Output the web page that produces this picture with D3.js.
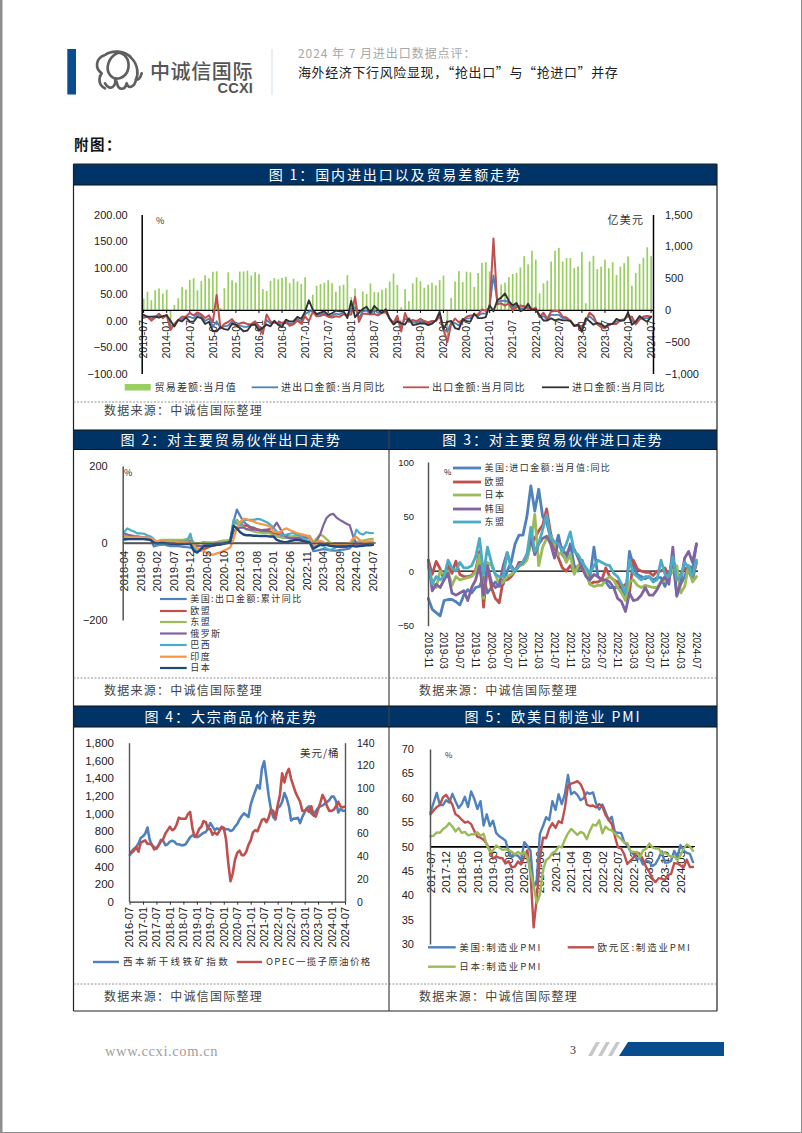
<!DOCTYPE html>
<html><head><meta charset="utf-8">
<script src="https://cdnjs.cloudflare.com/ajax/libs/d3/7.8.5/d3.min.js"></script>
<style>html,body{margin:0;padding:0;background:#fff}svg{display:block}text{font-family:"Liberation Sans",Arial,sans-serif}.cjk{font-family:"Noto Sans CJK SC",sans-serif}.serif{font-family:"Liberation Serif",serif}</style>
</head><body><div id="c"></div>
<script>
// ---------- Figure 1 ----------
const f1Ticks=["2013-07","2014-01","2014-07","2015-01","2015-07","2016-01","2016-07","2017-01","2017-07","2018-01","2018-07","2019-01","2019-07","2020-01","2020-07","2021-01","2021-07","2022-01","2022-07","2023-01","2023-07","2024-01","2024-07"];
const f1Balance=[178,286,152,311,338,256,
318,-229,77,184,359,319,473,498,309,454,545,497,
600,606,30,341,590,465,430,602,604,616,542,594,
563,326,298,456,500,481,502,520,420,490,446,409,
513,-91,239,380,408,428,467,420,285,381,397,547,
200,337,-50,289,250,416,280,279,317,340,447,570,
392,41,326,138,417,510,450,348,396,428,387,468,
540,-420,190,445,610,440,600,590,360,580,740,750,
605,37,138,400,430,515,565,583,668,845,717,930,
790,260,420,460,760,930,975,760,815,815,655,685,
910,105,760,850,640,680,790,655,750,550,680,735,
840,380,580,725,820,985,845];
const f1Total=[7.8,7.1,3.4,6.3,9.3,6.0,
10.4,-10,-9,0.9,3,6.1,7,3.8,11.4,8.2,-0.8,4,
-11.1,-2,-14,-10.9,-9.8,-1.7,-8.2,-9.4,-11.8,-11.9,-7.6,-4.3,
-14.4,-19,0.9,-5.9,-2.4,-6.4,-8,-0.8,-6.6,-4.8,3,-2.2,
11.5,17,18,9.8,11.4,14,9,9,13,11.7,15,8,
22,25,5,17,18.6,12.6,19.3,14.6,14.4,18,3.4,-5.8,
4,-13,3.6,0.5,-3.3,-4,-0.6,-3.1,-5.6,-3.4,-0.4,12,
-16.6,-21,-4.2,-4.9,-9.3,1.5,3.4,4.3,11.4,8.3,13.5,13,
26.6,85,34.5,37,37.4,34.2,23,29,23,24,26,20.4,
22.8,8,8,2.1,11,10.1,11,4.1,3.4,-0.4,-9.5,-9,
-14.8,1,8,1,-6.2,-10,-13.5,-8,-6.2,-2,0,1.3,
11,0,-5,4.7,5,4,7];
const f1Export=[5,7,-0.3,5.6,12.7,4.3,
10.6,-18,-6.6,0.9,7,7.2,14.5,9.4,15.3,11.6,4.7,9.7,
-3.3,48.3,-15,-6.4,-2.8,2.8,-8.3,-5.5,-3.7,-6.9,-6.8,-1.4,
-11.2,-25.4,11.5,-1.8,-4.1,-4.8,-4.4,-2.8,-10,-7.3,0.1,-6.1,
7.9,-1.3,16.4,8,8.7,11.3,7.2,5.5,8.1,6.9,12,10.9,
11.1,44.5,-2.7,12.9,12.6,11.3,12.2,9.8,14.5,15.6,3.9,-4.4,
9.1,-20.7,14,-2.7,1.1,-1.3,3.3,-1,-3.2,-0.9,-1.1,7.9,
-17,-40.6,-6.6,3.5,-3.3,0.5,7.2,9.5,9.9,11.4,21.1,18.1,
24.9,154.9,30.6,32.3,27.9,32.2,19.3,25.6,28.1,27.1,22,20.9,
24.1,6.2,14.7,3.9,16.9,17.9,18,7.1,5.7,-0.3,-8.9,-9.9,
-10.5,-1.3,14.8,8.5,-7.5,-12.4,-14.5,-8.8,-6.2,-6.4,0.5,2.3,
8,7.1,-7.5,1.5,7.6,8.6,7];
const f1Import=[10.9,7,7.4,7.6,5.3,8.3,
10,-0.5,-11.3,0.8,-1.6,5.5,-1.6,-2.4,7,4.6,-6.7,-2.4,
-19.9,-20.5,-12.7,-16.2,-17.6,-6.1,-8.1,-13.8,-20.4,-18.8,-8.7,-7.6,
-18.8,-13.8,-7.6,-10.9,-0.4,-8.4,-12.5,1.5,-1.9,-1.4,6.7,3.1,
16.7,38.1,20.3,11.9,14.8,17.2,11,13.3,18.7,17.2,17.7,4.5,
36.9,6.3,14.4,21.5,26,14.1,27.3,20,14.3,21.4,3,-7.6,
-1.5,-5.2,-7.6,4,-8.5,-7.3,-5.3,-5.6,-8.5,-6.4,0.3,16.3,
-16,-2.7,-0.9,-14.2,-16.7,2.7,-1.4,-2.1,13.2,4.7,4.5,6.5,
28.7,17.3,38.1,43.1,51.1,36.7,28.1,33,17.6,20.6,31.7,19.5,
21,10,-0.1,0,3.9,0.3,2.3,0.3,0.3,-0.7,-10.6,-7.5,
-21.3,4.2,-1.4,-7.9,-4.5,-6.8,-12.4,-7.3,-6.2,3,-0.6,0.2,
15.5,-8.2,-1.9,8.4,1.8,-2.3,7.2];
// ---------- Figure 2 ----------
const f2Ticks=["2018-04","2018-09","2019-02","2019-07","2019-12","2020-05","2020-10","2021-03","2021-08","2022-01","2022-06","2022-11","2023-04","2023-09","2024-02","2024-07"];
const f2US=[8,10,11,12,12,13,13,12,11,
-9,-6,-5,-4,-6,-8,-8,-8,-9,-10,-11,-12,
-15,-15,-20,-16,-11,-8,-5,-3,-2,0,4,8,
55,87,70,55,48,42,40,36,32,30,29,28,
20,18,16,14,14,15,14,13,11,8,4,1,
-21,-20,-18,-16,-17,-19,-20,-20,-18,-17,-16,-14,
-3,-1,-3,-2,-1,0,2];
const f2EU=[12,12,12,11,11,11,11,11,10,
8,2,1,3,4,5,4,4,3,4,4,5,
-15,-15,-16,-16,-13,-9,-7,-5,-3,-2,0,4,
50,60,50,45,45,40,38,36,34,32,32,30,
25,24,22,20,19,16,15,14,13,10,6,3,
-12,-8,-3,-3,-5,-7,-9,-10,-10,-10,-9,-8,
-2,-3,-5,-3,-2,-2,-1];
const f2ASEAN=[18,18,17,16,16,15,15,15,14,
3,4,8,8,8,8,8,8,8,9,11,12,
2,-3,0,3,2,2,2,3,5,6,7,8,
45,60,50,40,35,33,30,28,27,26,26,25,
20,18,15,14,15,17,18,20,21,20,19,18,
2,12,22,18,10,2,-2,-5,-5,-6,-6,-5,
6,3,4,6,8,10,11];
const f2Russia=[25,22,20,18,17,16,15,14,13,
3,-2,3,3,3,2,2,3,3,3,3,3,
-5,-8,-8,-6,-5,-4,-3,-1,0,1,2,3,
30,38,40,40,36,35,35,34,33,34,35,36,
40,53,38,22,15,12,12,13,14,15,14,13,
-5,5,20,45,65,73,76,66,60,55,50,46,
18,-3,-2,-3,-3,-2,-2];
const f2Brazil=[28,38,33,30,25,25,24,20,17,
10,-6,-3,-3,-2,-1,0,0,-3,3,5,24,
-12,-22,-15,-8,-6,-5,-5,-5,-3,-1,2,5,
60,50,45,58,60,60,60,62,62,58,54,48,
40,30,25,20,22,24,26,22,18,12,8,5,
-10,-8,-5,-8,-14,-18,-16,-10,-8,-8,-6,-5,
5,35,25,22,28,26,26];
const f2India=[14,15,15,15,15,15,15,14,13,
8,5,4,4,3,3,3,3,2,1,1,2,
-5,-15,-18,-20,-27,-30,-30,-27,-24,-20,-16,-12,
10,40,55,63,62,58,56,52,50,48,46,42,
30,28,28,35,38,33,30,26,24,22,18,14,
-8,3,6,3,-3,-4,-4,-3,-3,-3,-2,-1,
12,16,8,3,3,4,4];
const f2Japan=[10,10,10,10,10,10,10,9,8,
0,-1,0,0,-1,-2,-2,-3,-3,-3,-3,-2,
-20,-25,-18,-8,-7,-7,-6,-5,-4,-2,0,3,
45,38,28,22,20,20,19,19,18,18,18,17,
17,8,5,3,2,5,7,8,7,5,3,1,
-15,-10,-5,-4,-5,-7,-8,-9,-9,-9,-9,-8,
-8,-9,-8,-7,-6,-6,-5];
// ---------- Figure 3 ----------
const f3Ticks=["2018-11","2019-03","2019-07","2019-11","2020-03","2020-07","2020-11","2021-03","2021-07","2021-11","2022-03","2022-07","2022-11","2023-03","2023-07","2023-11","2024-03","2024-07"];
const f3US=[-25,-35,
-38,-41,-27,-26,-26,-28,-31,-22,-17,-20,-15,-14,
-5,-20,-15,-10,-14,-12,0,8,25,33,33,50,
78,55,75,50,45,30,20,33,15,10,25,5,
0,10,0,-5,22,-5,-8,-10,-15,-15,-15,-15,
-25,18,5,-3,-5,-7,-5,-8,-6,-6,-14,-5,
10,-22,-12,-5,5,2,25];
const f3EU=[10,-3,
9,2,-8,5,-2,9,-3,-5,-5,-4,1,18,
-33,5,-15,-25,-29,-8,-8,-5,0,8,8,15,
25,30,37,42,57,35,22,12,3,0,5,0,
5,2,-2,-12,-10,-10,-8,3,-5,-8,-10,-15,
-12,-20,10,2,0,-1,-1,-4,0,0,3,-5,
12,-5,-3,3,0,-8,8];
const f3Japan=[5,-10,
-15,0,-3,0,-13,-5,-8,-7,-6,-5,-1,15,
-25,8,5,-3,-12,-10,-5,-3,0,5,6,10,
25,52,5,22,30,33,25,15,18,8,15,-3,
5,8,0,-12,-14,-13,-13,-8,-5,-8,-15,-20,
-27,-10,-8,-13,-15,-13,-14,-15,-15,-10,-8,-5,
0,5,-20,-14,5,-10,-5];
const f3Korea=[10,-18,
-12,-15,-8,-2,-20,-22,-20,-18,-27,-15,-8,5,
-22,5,-10,-15,-13,5,17,5,0,5,8,15,
30,15,25,30,32,25,12,28,20,15,23,20,
12,3,-5,-8,-3,-5,-8,-8,-10,-15,-25,-28,
-37,-20,-27,-26,-22,-15,-22,-22,-17,-10,-5,-12,
22,-23,-10,12,18,8,25];
const f3ASEAN=[5,-12,
-5,-8,-5,10,3,0,8,3,3,5,13,30,
-3,22,8,-3,-5,-5,17,3,0,5,8,15,
40,18,25,38,52,30,27,25,18,25,36,18,
15,8,3,-2,5,10,8,6,5,-2,-5,-12,
-20,10,-2,-5,-8,-5,-5,-10,-8,10,-3,-5,
13,-8,-5,8,3,-5,10];
// ---------- Figure 4 ----------
const f4Ticks=["2016-07","2017-01","2017-07","2018-01","2018-07","2019-01","2019-07","2020-01","2020-07","2021-01","2021-07","2022-01","2022-07","2023-01","2023-07","2024-01","2024-07"];
const f4Ore=[520,570,600,620,660,720,
740,770,840,700,640,620,600,640,700,690,640,650,
680,690,680,650,650,640,640,650,690,730,750,760,
730,740,760,780,790,830,890,850,810,830,820,830,
830,820,820,800,810,850,880,930,970,1000,980,960,
1100,1180,1250,1320,1280,1510,1590,1400,1200,1050,960,930,
1060,1080,1130,1230,1170,1080,920,940,940,950,890,960,
1010,1060,1080,1000,980,1030,1060,1080,1090,1110,1130,1150,
1190,1190,1140,1010,1050,1030,1030];
const f4Oil=[44,43,45,48,44,52,
53,54,51,51,50,46,47,50,53,55,60,63,
66,63,64,68,74,73,73,73,77,79,65,57,
59,64,66,71,70,64,64,59,61,59,62,66,
65,55,34,18,25,37,43,45,41,41,44,50,
54,61,63,62,67,72,73,70,74,81,80,74,
85,94,113,105,113,117,108,102,96,92,88,80,
80,82,79,84,76,75,81,87,94,90,84,80,
80,81,84,88,84,83,84];
// ---------- Figure 5 ----------
const f5Ticks=["2017-07","2017-12","2018-05","2018-10","2019-03","2019-08","2020-01","2020-06","2020-11","2021-04","2021-09","2022-02","2022-07","2022-12","2023-05","2023-10","2024-03"];
const f5US=[57,59,61,58.5,58.5,59.5,
59,60.8,59.3,57.9,58.7,60.2,58.1,61.3,59.8,57.7,59.3,54.3,
56.6,54.2,55.3,52.8,52.1,51.7,51.2,49.1,47.8,48.3,48.1,47.2,
50.9,50.1,49.1,41.5,43.1,52.6,54.2,56,55.4,59.3,57.5,60.7,
58.7,60.8,64.7,60.7,61.2,60.6,59.5,59.9,61.1,60.8,61.1,58.8,
57.6,58.6,57.1,55.4,56.1,53,52.8,52.8,50.9,50.2,49,48.4,
47.4,47.7,46.3,47.1,46.9,46,46.4,47.6,49,46.7,46.7,47.1,
49.1,47.8,50.3,49.2,48.7,48.5,46.8];
const f5EZ=[56.6,57.4,58.1,58.5,60.1,60.6,
59.6,58.6,56.6,56.2,55.5,54.9,55.1,54.6,53.2,52,51.8,51.4,
50.5,49.3,47.5,47.9,47.7,47.6,46.5,47,45.7,45.9,46.9,46.3,
47.9,49.2,44.5,33.4,39.4,47.4,51.8,51.7,53.7,54.8,53.8,55.2,
54.8,57.9,62.5,62.9,63.1,63.4,62.8,61.4,58.6,58.3,58.4,58,
58.7,58.2,56.5,55.5,54.6,52.1,49.8,49.6,48.4,46.4,47.1,47.8,
48.8,48.5,47.3,45.8,44.8,43.4,42.7,43.5,43.4,43.1,44.2,44.4,
46.6,46.5,46.1,45.7,47.3,45.8,45.8];
const f5JP=[52.1,52.2,52.9,52.8,53.6,54,
54.8,54.1,53.1,53.8,52.8,53,52.3,52.5,52.5,52.9,52.2,52.6,
50.3,48.9,49.2,50.2,49.8,49.3,49.4,49.3,48.9,48.4,48.9,48.4,
48.8,47.8,44.8,41.9,38.4,40.1,45.2,47.2,47.7,48.7,49,50,
49.8,51.4,52.7,53.6,53,52.4,53,52.7,51.5,53.2,54.5,54.3,
55.4,52.7,54.1,53.5,53.3,52.7,52.1,51.5,50.8,50.7,49,48.9,
48.9,47.7,49.2,49.5,50.6,49.8,49.6,49.6,48.5,48.7,48.3,47.9,
48,47.2,48.2,49.6,50.4,50,49.1];

const BLUE="#4F81BD",RED="#C0504D",GREEN="#9BBB59",PURPLE="#8064A2",TEAL="#4BACC6",ORANGE="#F79646",NAVY="#1F497D",DARK="#333333",NAVYHEAD="#003366",BAR="#98CF60";
const svg=d3.select("#c").append("svg").attr("width",802).attr("height",1133).attr("viewBox","0 0 802 1133");

const cjk=(g,x,y,t,o={})=>g.append("text").attr("class","cjk").attr("x",x).attr("y",y).attr("dy","0.36em")
  .attr("font-size",o.size||10).attr("fill",o.fill||"#333").attr("text-anchor",o.anchor||"start")
  .attr("letter-spacing",o.ls||0).attr("font-weight",o.weight||400).text(t);

function valAxis(scale,side,x,vals,fmt,size,pad,color="#000",sw=1.5){
  const g=svg.append("g").attr("transform",`translate(${x},0)`);
  const ax=(side==="left"?d3.axisLeft(scale):d3.axisRight(scale)).tickValues(vals).tickFormat(fmt).tickSize(0).tickPadding(pad);
  g.call(ax);
  g.selectAll("text").attr("font-size",size).attr("fill","#222");
  g.select(".domain").attr("stroke",color).attr("stroke-width",sw);
  return g;
}
function catAxis(xScale,y,labelY,labels,size,tick=3,lineColor="#000"){
  const g=svg.append("g").attr("transform",`translate(0,${y})`);
  const ax=d3.axisBottom(xScale).tickValues(labels).tickSize(tick).tickSizeOuter(0).tickFormat("");
  g.call(ax);
  g.select(".domain").attr("stroke",lineColor).attr("stroke-width",1.3);
  g.selectAll("line").attr("stroke",lineColor);
  const off=xScale.bandwidth?xScale.bandwidth()/2:0;
  svg.append("g").selectAll("text").data(labels).join("text")
    .attr("transform",d=>`translate(${xScale(d)+off},${labelY}) rotate(-90)`)
    .attr("text-anchor","end").attr("dy","0.36em").attr("font-size",size).attr("fill","#222").text(d=>d);
}
function months(y0,m0,n){const o=[];let y=y0,m=m0;for(let i=0;i<n;i++){o.push(y+"-"+String(m).padStart(2,"0"));m++;if(m>12){m=1;y++;}}return o;}
function lines(x,y,cats,series){
  const gen=d3.line().x((d,i)=>x(cats[i])).y(d=>y(d));
  svg.append("g").attr("fill","none").attr("stroke-linejoin","round").attr("stroke-linecap","round")
    .selectAll("path").data(series).join("path").attr("d",d=>gen(d.v)).attr("stroke",d=>d.c).attr("stroke-width",d=>d.w);
}
function legendLine(x1,x2,y,c,w,t,o){
  svg.append("line").attr("x1",x1).attr("x2",x2).attr("y1",y).attr("y2",y).attr("stroke",c).attr("stroke-width",w);
  cjk(svg,x2+o.gap,y,t,o);
}

// ---------- Figure 1 chart ----------
{
 const cats=months(2013,7,133);
 const x=d3.scaleBand().domain(cats).range([141.7,653]);
 const yL=d3.scaleLinear().domain([-100,200]).range([373.5,214.5]);
 const yR=d3.scaleLinear().domain([-1000,1500]).range([373.5,214.5]);
 svg.append("g").selectAll("rect").data(f1Balance).join("rect")
  .attr("x",(d,i)=>x(cats[i])+1.1).attr("width",1.7)
  .attr("y",d=>yR(Math.max(0,d))).attr("height",d=>Math.abs(yR(d)-yR(0))).attr("fill",BAR);
 catAxis(x,yR(0),320,f1Ticks,10.5);
 const xp=d3.scalePoint().domain(cats).range([143.6,651.1]);
 lines(xp,yL,cats,[{v:f1Total,c:BLUE,w:1.8},{v:f1Export,c:RED,w:2},{v:f1Import,c:DARK,w:1.9}]);
 valAxis(yL,"left",141.7,[-100,-50,0,50,100,150,200],d3.format(".2f"),11,14);
 valAxis(yR,"right",653,[-1000,-500,0,500,1000,1500],d3.format(","),11,12);
 cjk(svg,156,221,"%",{size:9});
 cjk(svg,607.5,220,"亿美元",{size:11,ls:1.2});
 svg.append("rect").attr("x",124.7).attr("y",384).attr("width",26).attr("height",6.5).attr("fill",BAR);
 const o={size:10,gap:3,ls:1.2,fill:"#333"};
 cjk(svg,154.5,387.3,"贸易差额:当月值",o);
 legendLine(251.7,278,387.3,BLUE,1.8,"进出口金额:当月同比",o);
 legendLine(403,429,387.3,RED,1.8,"出口金额:当月同比",o);
 legendLine(542,569,387.3,DARK,1.8,"进口金额:当月同比",o);
}
// ---------- Figure 2 chart ----------
{
 const cats=months(2018,4,76);
 const x=d3.scalePoint().domain(cats).range([124,373]);
 const y=d3.scaleLinear().domain([-200,200]).range([620,466]);
 svg.append("line").attr("x1",122.7).attr("x2",375.7).attr("y1",y(0)).attr("y2",y(0)).attr("stroke","#555").attr("stroke-width",1.3);
 lines(x,y,cats,[{v:f2US,c:BLUE,w:2.2},{v:f2EU,c:RED,w:2.2},{v:f2ASEAN,c:GREEN,w:2.2},{v:f2Russia,c:PURPLE,w:2.2},{v:f2Brazil,c:TEAL,w:2.2},{v:f2India,c:ORANGE,w:2.2},{v:f2Japan,c:NAVY,w:2.4}]);
 catAxis(x,y(0),y(0)+8,f2Ticks,11,0,"#555");
 valAxis(y,"left",122.7,[-200,0,200],d3.format("d"),11,15,"#555",1.5);
 cjk(svg,124,473,"%",{size:9,fill:"#222"});
 const names=["美国:出口金额:累计同比","欧盟","东盟","俄罗斯","巴西","印度","日本"];
 const cols=[BLUE,RED,GREEN,PURPLE,TEAL,ORANGE,NAVY];
 const ys=[599,611,622,633.5,645,656.7,668];
 names.forEach((n,i)=>legendLine(160,186.7,ys[i],cols[i],2.2,n,{size:9,gap:3.5,ls:1.45,fill:"#333"}));
}
// ---------- Figure 3 chart ----------
{
 const cats=months(2018,11,69);
 const x=d3.scalePoint().domain(cats).range([428.3,696.5]);
 const y=d3.scaleLinear().domain([-50,100]).range([625.7,462]);
 svg.append("line").attr("x1",428).attr("x2",698).attr("y1",y(0)).attr("y2",y(0)).attr("stroke","#000").attr("stroke-width",1.2);
 lines(x,y,cats,[{v:f3US,c:BLUE,w:2.8},{v:f3EU,c:RED,w:2.8},{v:f3Japan,c:GREEN,w:2.8},{v:f3Korea,c:PURPLE,w:2.8},{v:f3ASEAN,c:TEAL,w:2.8}]);
 svg.append("g").selectAll("text").data(f3Ticks).join("text")
  .attr("transform",d=>`translate(${x(d)},632) rotate(90)`).attr("dy","0.36em").attr("font-size",10).attr("fill","#222").text(d=>d);
 valAxis(y,"left",428,[-50,0,50,100],d3.format("d"),9.5,14,"#555",1.5);
 cjk(svg,444,472.5,"%",{size:8,fill:"#222"});
 const names=["美国:进口金额:当月值:同比","欧盟","日本","韩国","东盟"];
 const cols=[BLUE,RED,GREEN,PURPLE,TEAL];
 const ys=[468,482,495,509,522];
 names.forEach((n,i)=>legendLine(453,481,ys[i],cols[i],2.8,n,{size:9,gap:3.5,ls:1.45,fill:"#333"}));
}
// ---------- Figure 4 chart ----------
{
 const cats=months(2016,7,97);
 const x=d3.scalePoint().domain(cats).range([129.5,345]);
 const yL=d3.scaleLinear().domain([0,1800]).range([901.7,742.7]);
 const yR=d3.scaleLinear().domain([0,140]).range([901.7,742.7]);
 const gen=(s,v)=>d3.line().x((d,i)=>x(cats[i])).y(d=>s(d))(v);
 svg.append("path").attr("d",gen(yL,f4Ore)).attr("fill","none").attr("stroke",BLUE).attr("stroke-width",2.6).attr("stroke-linejoin","round");
 svg.append("path").attr("d",gen(yR,f4Oil)).attr("fill","none").attr("stroke",RED).attr("stroke-width",2.6).attr("stroke-linejoin","round");
 catAxis(x,901.7,907,f4Ticks,11,3,"#333");
 valAxis(yL,"left",129,[0,200,400,600,800,1000,1200,1400,1600,1800],d3.format(","),11.5,15,"#555",1.4);
 valAxis(yR,"right",345,[0,20,40,60,80,100,120,140],d3.format("d"),10.5,12,"#555",1.4);
 cjk(svg,300,753.5,"美元/桶",{size:10.5,ls:1,fill:"#333"});
 legendLine(93,119,962,BLUE,2.4,"西本新干线铁矿指数",{size:9.5,gap:4,ls:2.4,fill:"#333"});
 legendLine(236.7,262,962,RED,2.4,"OPEC一揽子原油价格",{size:9.5,gap:4,ls:1.3,fill:"#333"});
}
// ---------- Figure 5 chart ----------
{
 const cats=months(2017,7,85);
 const x=d3.scalePoint().domain(cats).range([430.5,693]);
 const y=d3.scaleLinear().domain([30,70]).range([944,749]);
 catAxis(x,y(50),851,f5Ticks,11.5,0);
 svg.append("line").attr("x1",430).attr("x2",695).attr("y1",y(50)).attr("y2",y(50)).attr("stroke","#000").attr("stroke-width",1.1);
 lines(x,y,cats,[{v:f5US,c:BLUE,w:2.4},{v:f5EZ,c:RED,w:2.4},{v:f5JP,c:GREEN,w:2.4}]);
 valAxis(y,"left",430,[30,35,40,45,50,55,60,65,70],d3.format("d"),11,16,"#555",1.5);
 cjk(svg,445,755,"%",{size:8,fill:"#333"});
 const o={size:9.5,gap:3.5,ls:1.8,fill:"#333"};
 legendLine(428,455.7,947.3,BLUE,2.4,"美国:制造业PMI",o);
 legendLine(567.7,594,947.3,RED,2.4,"欧元区:制造业PMI",o);
 legendLine(428,455.7,966.7,GREEN,2.4,"日本:制造业PMI",o);
}
// ---------- Frame, headers, sources ----------
{
 const f=svg.append("g");
 const L=73.5,R=717,M=389,T=164,B=1011;
 const heads=[[L,R,164,185,"图 1：国内进出口以及贸易差额走势"],[L,M,430,449.5,"图 2：对主要贸易伙伴出口走势"],[M,R,430,449.5,"图 3：对主要贸易伙伴进口走势"],[L,M,706,727,"图 4：大宗商品价格走势"],[M,R,706,727,"图 5：欧美日制造业 PMI"]];
 heads.forEach(h=>{
  f.append("rect").attr("x",h[0]).attr("y",h[2]).attr("width",h[1]-h[0]).attr("height",h[3]-h[2]).attr("fill",NAVYHEAD);
  cjk(f,(h[0]+h[1])/2,(h[2]+h[3])/2,h[4],{size:14,fill:"#fff",anchor:"middle",ls:1.9});
 });
 const line=(a,b,c,d,o={})=>f.append("line").attr("x1",a).attr("y1",b).attr("x2",c).attr("y2",d).attr("stroke",o.c||"#222").attr("stroke-width",o.w||1.2).attr("stroke-dasharray",o.d||null);
 line(L,T,L,B);line(R,T,R,B);line(L,T,R,T);line(L,B,R,B);
 line(M,430,M,B,{c:"#444"});
 [430,449.5,706,727,185].forEach(y=>line(L,y,R,y,{c:"#111",w:1}));
 [[L,R,402],[L,M,678],[M,R,678],[L,M,984],[M,R,984]].forEach(d=>line(d[0],d[2],d[1],d[2],{c:"#777",w:0.8,d:"2 1.5"}));
 [[104,411],[104,691],[419,691],[104,997],[419,997]].forEach(p=>cjk(f,p[0],p[1],"数据来源：中诚信国际整理",{size:12,fill:"#444",ls:1.25}));
}
// ---------- Page furniture ----------
{
 const p=svg.append("g");
 p.append("rect").attr("x",0).attr("y",0).attr("width",2.5).attr("height",1133).attr("fill","#8f8f8f");
 p.append("rect").attr("x",801).attr("y",0).attr("width",1).attr("height",1133).attr("fill","#8f8f8f");
 p.append("rect").attr("x",0).attr("y",1132).attr("width",802).attr("height",1).attr("fill","#8f8f8f");
 p.append("rect").attr("x",67.3).attr("y",49).attr("width",8.7).attr("height",45.5).attr("fill","#0A4D8F");
 p.append("line").attr("x1",272).attr("x2",272).attr("y1",49).attr("y2",95).attr("stroke","#D5DFE8").attr("stroke-width",1);
 // logo outline, hand-traced in the crop's own 3x coordinates
 const e=p.append("g").attr("transform","translate(60,40) scale(0.3333)").attr("fill","none").attr("stroke","#5f5f5f").attr("stroke-width",8).attr("stroke-linecap","round").attr("stroke-linejoin","round");
 e.append("path").attr("d","M135 145C115 135 115 115 125 100C105 85 105 55 135 45C155 30 195 30 215 55C235 75 235 105 228 118");
 e.append("path").attr("d","M175 38C145 50 135 85 150 105C165 125 200 115 205 85C210 55 190 38 175 38");
 e.append("path").attr("d","M135 130C150 155 170 140 165 115M170 125C175 155 195 150 200 130C205 150 225 140 228 118C235 122 242 112 245 100");
 cjk(p,150,71.5,"中诚信国际",{size:20,fill:"#555",ls:0.6,weight:500});
 p.append("text").attr("x",253).attr("y",93.3).attr("text-anchor","end").attr("font-size",14.5).attr("font-weight",700).attr("fill","#555").attr("letter-spacing",0.2).text("CCXI");
 cjk(p,298,54,"2024 年 7 月进出口数据点评：",{size:12,fill:"#a8a8a8",ls:0.95});
 cjk(p,298,72,"海外经济下行风险显现，“抢出口”与“抢进口”并存",{size:13,fill:"#222",ls:0.62});
 cjk(p,74,145,"附图：",{size:14.5,fill:"#111",weight:700,ls:1.5});
 p.append("text").attr("class","serif").attr("x",105).attr("y",1056).attr("font-size",14.5).attr("fill","#a0a0a0").attr("letter-spacing",0.6).text("www.ccxi.com.cn");
 p.append("text").attr("class","serif").attr("x",570).attr("y",1054).attr("font-size",12).attr("fill","#333").text("3");
 [588,598,608].forEach(x=>p.append("path").attr("d",`M${x} 1056L${x+8} 1042H${x+12}L${x+4} 1056Z`).attr("fill","#c8c8c8"));
 p.append("path").attr("d","M619 1056L628 1042H724V1056Z").attr("fill","#0A4D8F");
}
</script></body></html>
